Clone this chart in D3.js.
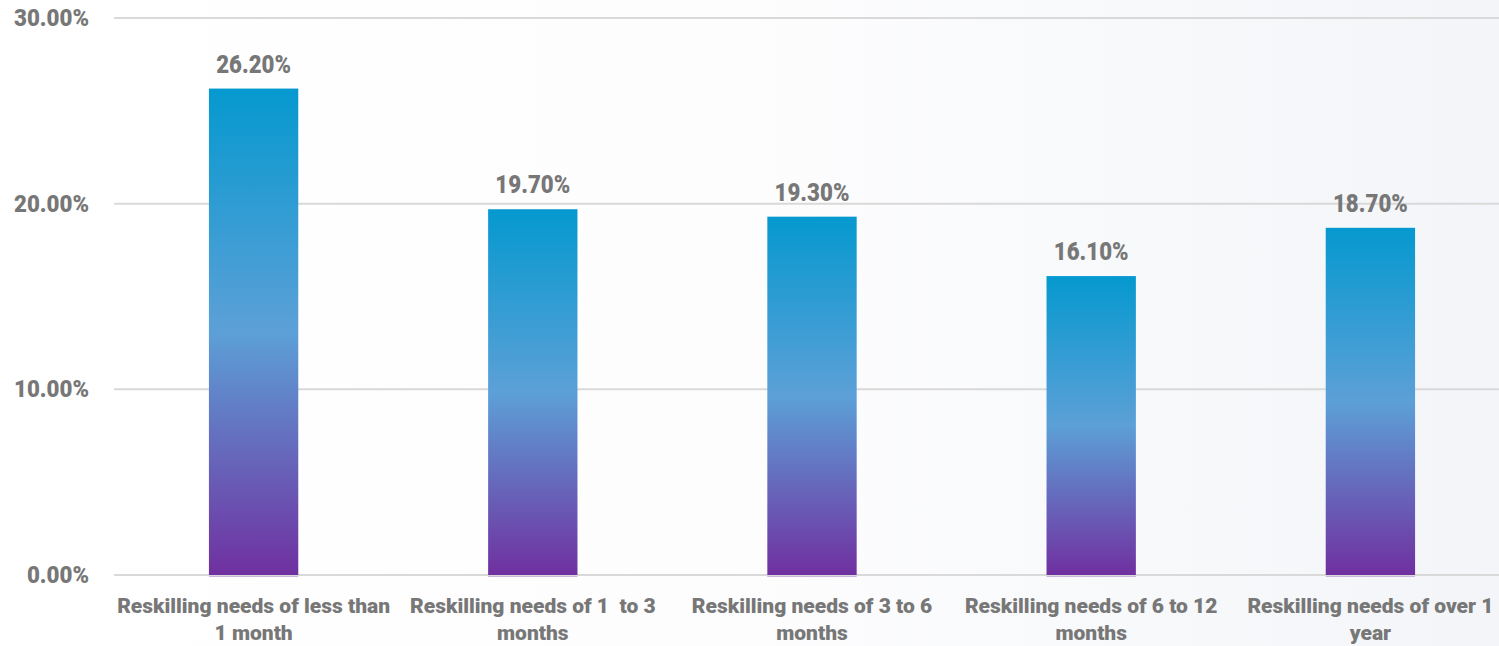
<!DOCTYPE html>
<html><head><meta charset="utf-8">
<script src="https://cdn.jsdelivr.net/npm/d3@7"></script>
<style>
html,body{margin:0;padding:0;background:#fff;}
svg{display:block;font-family:Roboto,"Liberation Sans",sans-serif;}
</style></head>
<body>
<svg id="chart" width="1499" height="646"></svg>
<script>
const categories = [
  ["Reskilling needs of less than", "1 month"],
  ["Reskilling needs of 1  to 3", "months"],
  ["Reskilling needs of 3 to 6", "months"],
  ["Reskilling needs of 6 to 12", "months"],
  ["Reskilling needs of over 1", "year"]
];
const values = [26.2, 19.7, 19.3, 16.1, 18.7];
const yTicks = [0, 10, 20, 30];

const W = 1499, H = 646;
const svg = d3.select("#chart");
const defs = svg.append("defs");

const bg = defs.append("linearGradient").attr("id","bg").attr("x1","0").attr("y1","0").attr("x2","1").attr("y2","0");
bg.append("stop").attr("offset","0").attr("stop-color","#ffffff");
bg.append("stop").attr("offset","0.5").attr("stop-color","#fdfdfe");
bg.append("stop").attr("offset","1").attr("stop-color","#f3f5f8");
svg.append("rect").attr("width",W).attr("height",H).attr("fill","url(#bg)");

const g = defs.append("linearGradient").attr("id","barGrad").attr("x1","0").attr("y1","0").attr("x2","0").attr("y2","1");
g.append("stop").attr("offset","0").attr("stop-color","#0599cf");
g.append("stop").attr("offset","0.5").attr("stop-color","#5ca0d7");
g.append("stop").attr("offset","1").attr("stop-color","#7030a0");

const x = d3.scaleBand().domain(d3.range(values.length)).range([114, 1510]).paddingInner(0.68).paddingOuter(0.34);
const y = d3.scaleLinear().domain([0, 30]).range([575, 18]);
const fmt = d => d3.format(".2f")(d) + "%";

// gridlines
svg.append("g").selectAll("line").data(yTicks).join("line")
  .attr("x1", 114).attr("x2", W)
  .attr("y1", d => y(d)).attr("y2", d => y(d))
  .attr("stroke", "#d9d9d9").attr("stroke-width", 2);

// y tick labels
svg.append("g").selectAll("text").data(yTicks).join("text")
  .attr("transform", d => `translate(89,${y(d) + 8}) scale(0.93,1)`)
  .attr("text-anchor", "end")
  .attr("font-size", 24).attr("font-weight", 900)
  .attr("fill", "#777777")
  .text(fmt);

// bars
svg.append("g").selectAll("rect").data(values).join("rect")
  .attr("x", (d,i) => x(i)).attr("width", x.bandwidth())
  .attr("y", d => y(d)).attr("height", d => y(0) - y(d))
  .attr("fill", "url(#barGrad)");

// bottom accent under bars
svg.append("g").selectAll("line").data(values).join("line")
  .attr("x1", (d,i) => x(i)).attr("x2", (d,i) => x(i) + x.bandwidth())
  .attr("y1", y(0) + 1.5).attr("y2", y(0) + 1.5)
  .attr("stroke", "#c9b6dc").attr("stroke-width", 1);

// value labels
svg.append("g").selectAll("text").data(values).join("text")
  .attr("transform", (d,i) => `translate(${x(i) + x.bandwidth()/2},${y(d) - 16}) scale(0.84,1)`)
  .attr("text-anchor", "middle")
  .attr("font-size", 26.5).attr("font-weight", 900)
  .attr("fill", "#777777")
  .text(fmt);

// category labels
const cat = svg.append("g").selectAll("text").data(categories).join("text")
  .attr("x", (d,i) => x(i) + x.bandwidth()/2)
  .attr("y", 613)
  .attr("text-anchor", "middle")
  .attr("font-size", 21).attr("font-weight", 900).attr("letter-spacing", 0)
  .attr("fill", "#777777");
cat.selectAll("tspan").data(d => d).join("tspan")
  .attr("x", function(){ return d3.select(this.parentNode).attr("x"); })
  .attr("dy", (d,j) => j === 0 ? 0 : 27)
  .attr("xml:space","preserve")
  .text(d => d);
</script>
</body></html>
